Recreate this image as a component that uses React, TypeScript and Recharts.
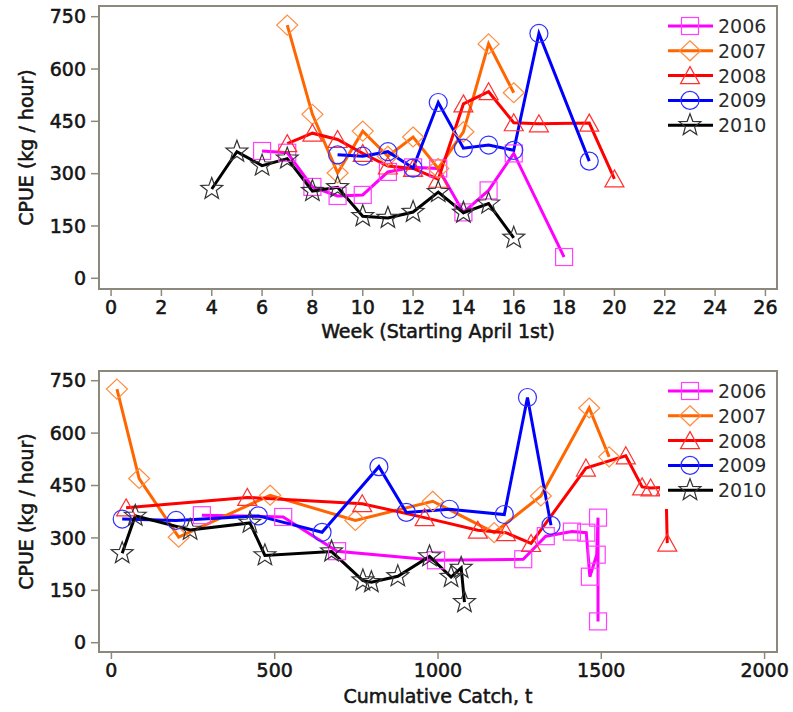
import React from "react"
import { LineChart, Line, XAxis, YAxis, ReferenceArea } from "recharts"

// weekly CPUE and cumulative catch per season
const weeks2006 = [6, 7, 8, 9, 10, 11, 12, 13, 14, 15, 16, 18]
const cpue2006 = [365, 360, 262, 236, 239, 305, 318, 315, 189, 252, 358, 61]
const catch2006 = [277, 526, 691, 994, 1261, 1330, 1410, 1454, 1465, 1486, 1490, 1490]

const weeks2007 = [7, 8, 9, 10, 11, 12, 13, 14, 15, 16]
const cpue2007 = [726, 470, 302, 422, 350, 405, 315, 420, 672, 532]
const catch2007 = [17, 85, 206, 486, 747, 984, 1172, 1315, 1463, 1524]

const weeks2008 = [7, 8, 9, 10, 11, 12, 13, 14, 15, 16, 17, 19, 20]
const cpue2008 = [386, 416, 398, 358, 322, 315, 284, 500, 535, 446, 443, 445, 285]
const catch2008 = [45, 416, 768, 959, 1122, 1208, 1285, 1453, 1575, 1625, 1651, 1698, 1702]

const weeks2009 = [9, 10, 11, 12, 13, 14, 15, 16, 17, 19]
const cpue2009 = [354, 350, 363, 316, 504, 373, 382, 367, 702, 336]
const catch2009 = [33, 198, 450, 645, 819, 903, 1035, 1203, 1274, 1346]

const weeks2010 = [4, 5, 6, 7, 8, 9, 10, 11, 12, 13, 14, 15, 16]
const cpue2010 = [256, 363, 323, 343, 250, 261, 178, 173, 190, 247, 188, 214, 116]
const catch2010 = [33, 73, 241, 424, 470, 674, 770, 796, 877, 974, 1040, 1071, 1081]

const weekTicks = [0, 2, 4, 6, 8, 10, 12, 14, 16, 18, 20, 22, 24, 26]
const catchTicks = [0, 500, 1000, 1500, 2000]
const cpueTicks = [0, 150, 300, 450, 600, 750]

const FONT = '"DejaVu Sans", sans-serif'
const FRAME = "#8c887c"

type Shape = "square" | "diamond" | "triangle" | "circle" | "star"

const series = [
  { year: "2006", weeks: weeks2006, cpue: cpue2006, cum: catch2006, color: "#ff00ff", mark: "#ff40ff", shape: "square" as Shape },
  { year: "2007", weeks: weeks2007, cpue: cpue2007, cum: catch2007, color: "#ff6600", mark: "#ff8c40", shape: "diamond" as Shape },
  { year: "2008", weeks: weeks2008, cpue: cpue2008, cum: catch2008, color: "#ff0000", mark: "#ff3030", shape: "triangle" as Shape },
  { year: "2009", weeks: weeks2009, cpue: cpue2009, cum: catch2009, color: "#0000ff", mark: "#3030ff", shape: "circle" as Shape },
  { year: "2010", weeks: weeks2010, cpue: cpue2010, cum: catch2010, color: "#000000", mark: "#333333", shape: "star" as Shape },
]

function Marker({ shape, cx, cy, color }: { shape: Shape; cx: number; cy: number; color: string }) {
  const common = { fill: "none", stroke: color, strokeWidth: 1.2 }
  if (shape === "square") return <rect x={cx - 8.5} y={cy - 8.5} width={17} height={17} {...common} />
  if (shape === "diamond")
    return <polygon points={`${cx},${cy - 10} ${cx + 10.5},${cy} ${cx},${cy + 10} ${cx - 10.5},${cy}`} {...common} />
  if (shape === "triangle")
    return <polygon points={`${cx},${cy - 9} ${cx + 9.5},${cy + 8} ${cx - 9.5},${cy + 8}`} {...common} />
  if (shape === "circle") return <circle cx={cx} cy={cy} r={9} {...common} />
  const pts: string[] = []
  for (let i = 0; i < 10; i++) {
    const r = i % 2 === 0 ? 11.5 : 4.8
    const a = -Math.PI / 2 + (i * Math.PI) / 5
    pts.push(`${cx + r * Math.cos(a)},${cy + r * Math.sin(a)}`)
  }
  return <polygon points={pts.join(" ")} {...common} />
}

const makeDot = (shape: Shape, color: string) => (props: any) => {
  const { cx, cy, index } = props
  if (cx == null || cy == null) return <g key={`e-${index}`} />
  return <Marker key={`m-${index}`} shape={shape} cx={cx} cy={cy} color={color} />
}

// slight stroke gives the heavier look of the original lettering
const tickStyle = { fontFamily: FONT, fontSize: 19, fill: "#151515", stroke: "#151515", strokeWidth: 0.55 }
const titleStyle = { fontFamily: FONT, fontSize: 19, fill: "#151515", stroke: "#151515", strokeWidth: 0.55 }

function LegendBox({ top }: { top: number }) {
  return (
    <svg
      width={116}
      height={136}
      style={{ position: "absolute", left: 660, top, display: "block" }}
    >
      <rect x={0} y={0} width={116} height={136} fill="#ffffff" />
      {series.map((s, i) => {
        const y = 18 + i * 24.8
        return (
          <g key={s.year}>
            <line x1={8} x2={53} y1={y} y2={y} stroke={s.color} strokeWidth={3} />
            <Marker shape={s.shape} cx={30} cy={y} color={s.mark} />
            <text x={58} y={y + 6.9} fontFamily={FONT} fontSize={19} fill="#2b2b2b">
              {s.year}
            </text>
          </g>
        )
      })}
    </svg>
  )
}

function Panel({
  xKey,
  xDomain,
  xTicks,
  yDomain,
  marginTop,
  axisHeight,
  xTitle,
  titleOffset,
}: {
  xKey: "weeks" | "cum"
  xDomain: [number, number]
  xTicks: number[]
  yDomain: [number, number]
  marginTop: number
  axisHeight: number
  xTitle: string
  titleOffset: number
}) {
  return (
    <LineChart width={793} height={356} margin={{ top: marginTop, right: 16, left: 0, bottom: 0 }}>
      <ReferenceArea
        x1={xDomain[0]}
        x2={xDomain[1]}
        y1={yDomain[0]}
        y2={yDomain[1]}
        fill="none"
        stroke={FRAME}
        strokeWidth={2}
        ifOverflow="visible"
      />
      <XAxis
        type="number"
        dataKey="x"
        domain={xDomain}
        ticks={xTicks}
        interval={0}
        allowDataOverflow
        height={axisHeight}
        axisLine={false}
        tickSize={7}
        tickMargin={5}
        tickLine={{ stroke: FRAME, strokeWidth: 1.5 }}
        tick={tickStyle}
        label={{ value: xTitle, position: "insideBottom", offset: titleOffset, style: titleStyle }}
      />
      <YAxis
        type="number"
        dataKey="y"
        domain={yDomain}
        ticks={cpueTicks}
        interval={0}
        allowDataOverflow
        width={99}
        axisLine={false}
        tickSize={8}
        tickMargin={5}
        tickLine={{ stroke: FRAME, strokeWidth: 1.5 }}
        tick={tickStyle}
        label={{ value: "CPUE (kg / hour)", angle: -90, position: "center", dx: -23, style: titleStyle }}
      />
      {series.map((s) => (
        <Line
          key={s.year}
          data={s.cpue.map((v, i) => ({ x: s[xKey][i], y: v }))}
          dataKey="y"
          type="linear"
          stroke={s.color}
          strokeWidth={3}
          dot={makeDot(s.shape, s.mark)}
          activeDot={false}
          isAnimationActive={false}
        />
      ))}
    </LineChart>
  )
}

export default function App() {
  return (
    <div style={{ position: "absolute", left: 0, top: 0, width: 793, height: 712, background: "#ffffff" }}>
      <div style={{ position: "absolute", left: 0, top: 0, width: 793, height: 356 }}>
        <Panel
          xKey="weeks"
          xDomain={[-0.48, 26.46]}
          xTicks={weekTicks}
          yDomain={[-30.7, 780.7]}
          marginTop={6}
          axisHeight={67}
          xTitle="Week (Starting April 1st)"
          titleOffset={18.5}
        />
        <LegendBox top={8} />
      </div>
      <div style={{ position: "absolute", left: 0, top: 356, width: 793, height: 356 }}>
        <Panel
          xKey="cum"
          xDomain={[-38, 2038]}
          xTicks={catchTicks}
          yDomain={[-26.6, 777.8]}
          marginTop={15}
          axisHeight={60}
          xTitle="Cumulative Catch, t"
          titleOffset={9}
        />
        <LegendBox top={17} />
      </div>
    </div>
  )
}
